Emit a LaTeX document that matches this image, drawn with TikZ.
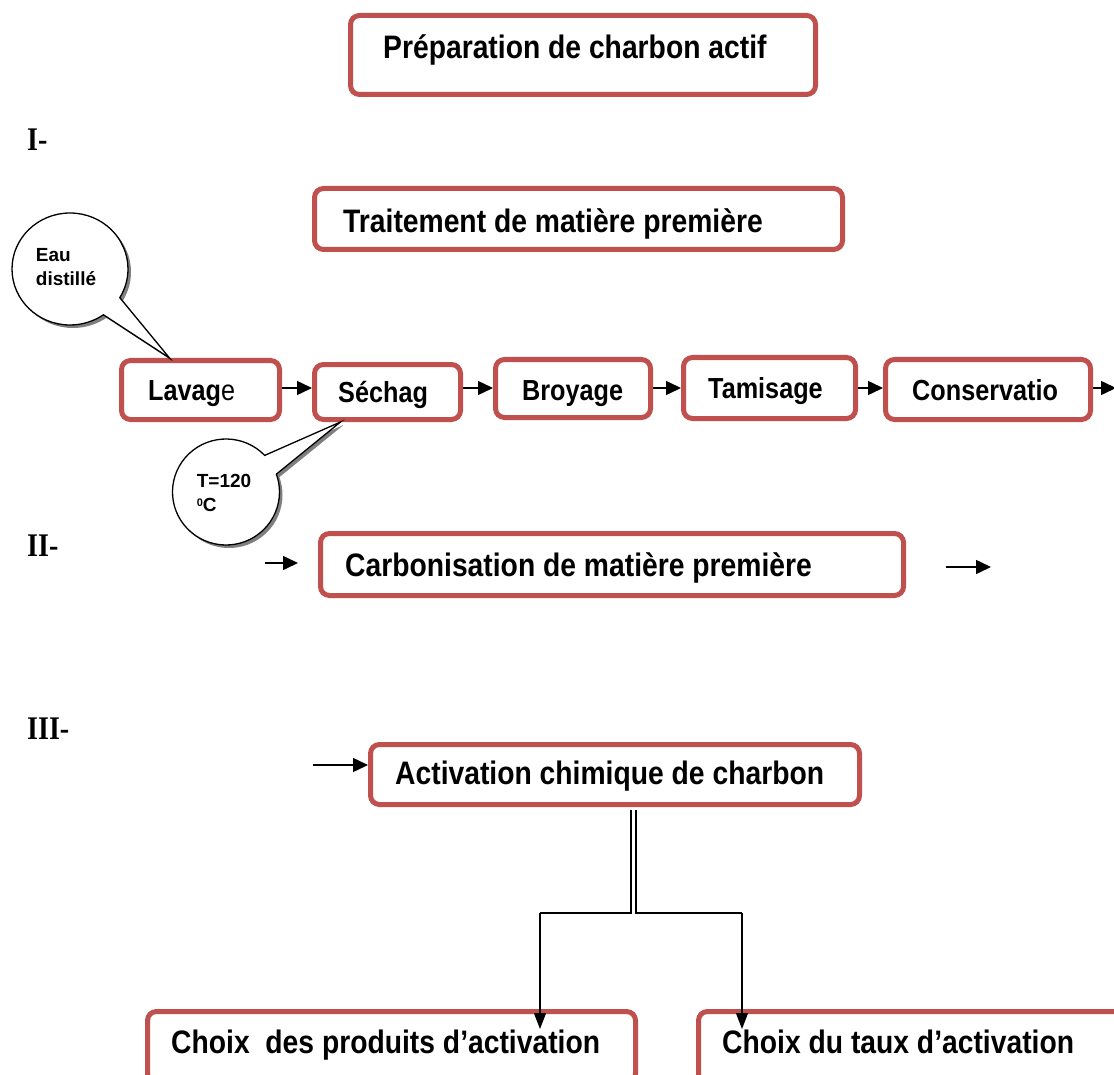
\documentclass[tikz,border=0pt]{standalone}
\usepackage{fontspec}
\setmainfont{Liberation Sans}
\newfontfamily\bx[FakeStretch=0.87]{Liberation Sans}
\newfontfamily\rom[FakeStretch=0.85]{Liberation Serif}
\usetikzlibrary{shapes.callouts,shadows,arrows.meta,calc}
\definecolor{boxred}{RGB}{192,80,77}
\begin{document}
\begin{tikzpicture}[x=1pt,y=-1pt,
  rbox/.style={draw=boxred, line width=5pt, rounded corners=9pt, fill=white, inner sep=0pt},
  bigtxt/.style={inner sep=0pt, anchor=base west, font=\bx\bfseries\fontsize{32.5}{36}\selectfont},
  rowtxt/.style={inner sep=0pt, anchor=base west, font=\bx\bfseries\fontsize{29}{32}\selectfont},
  romtxt/.style={inner sep=0pt, anchor=base west, font=\rom\bfseries\fontsize{33}{36}\selectfont},
  bubtxt/.style={inner sep=0pt, align=left, font=\bfseries\fontsize{19}{24}\selectfont},
  arr/.style={line width=1.5pt, -{Triangle[length=15pt,width=14pt]}},
  darr/.style={line width=1.3pt, -{Triangle[length=16pt,width=12pt]}},
  conn/.style={line width=1.3pt},
  bubble/.style={ellipse callout, draw=black, line width=1.3pt, fill=white, inner sep=0pt,
    callout pointer arc=24,
    drop shadow={shadow xshift=3pt, shadow yshift=-3pt, fill=black, opacity=0.5}}]
\useasboundingbox (0,0) rectangle (1114,1075);

% title
\node[rbox, minimum width=465pt, minimum height=79pt] (prep) at (583,55) {};
\node[bigtxt] (prept) at (383,59) {Préparation de charbon actif};

% roman numerals
\node[romtxt] (r1) at (27,151) {I-};
\node[romtxt] (r2) at (27,556) {II-};
\node[romtxt] (r3) at (27,739) {III-};

% section I
\node[rbox, minimum width=528pt, minimum height=61pt] (trait) at (578.5,219) {};
\node[bigtxt] (traitt) at (343,233) {Traitement de matière première};

\node[rbox, minimum width=158pt, minimum height=59pt] (lav) at (200.5,390) {};
\node[rowtxt] (lavt) at (148,400) {Lavag{\mdseries e}};
\node[rbox, minimum width=146pt, minimum height=55pt] (sech) at (387.5,392) {};
\node[rowtxt] (secht) at (338,402) {Séchag};
\node[rbox, minimum width=155pt, minimum height=58pt] (broy) at (573,388.5) {};
\node[rowtxt] (broyt) at (522,400) {Broyage};
\node[rbox, minimum width=172pt, minimum height=61pt] (tam) at (769.5,388) {};
\node[rowtxt] (tamt) at (708,398) {Tamisage};
\node[rbox, minimum width=205pt, minimum height=60pt] (cons) at (988,389.5) {};
\node[rowtxt] (const) at (912,400) {Conservatio};

\coordinate (rowy) at (0,388);
\coordinate (outr) at (1116,388);
\draw[arr] (lav.east |- rowy) -- (sech.west |- rowy);
\draw[arr] (sech.east |- rowy) -- (broy.west |- rowy);
\draw[arr] (broy.east |- rowy) -- (tam.west |- rowy);
\draw[arr] (tam.east |- rowy) -- (cons.west |- rowy);
\draw[arr] (cons.east |- rowy) -- (outr);

% callouts
\coordinate (tipA) at ($(lav.north west)+(50.5,0)$);
\node[bubble, minimum width=116pt, minimum height=112pt, callout absolute pointer={(tipA)}] (eau) at (70,269) {};
\node[bubtxt] (eaut) at (66,267) {Eau\\distillé};

\coordinate (tipB) at ($(sech.south west)+(28.5,0)$);
\node[bubble, minimum width=107pt, minimum height=106pt, callout absolute pointer={(tipB)}] (temp) at (226,492) {};
\node[bubtxt] (tempt) at (224,493) {T=120\\{\raisebox{0.55ex}{\fontsize{11}{11}\selectfont 0}}C};

% section II
\node[rbox, minimum width=583pt, minimum height=62pt] (carb) at (612,564.5) {};
\node[bigtxt] (carbt) at (345,576) {Carbonisation de matière première};
\coordinate (ca1) at (265,563);
\coordinate (ca2) at (298,563);
\coordinate (cb1) at (946,567);
\coordinate (cb2) at (991,567);
\draw[arr] (ca1) -- (ca2);
\draw[arr] (cb1) -- (cb2);

% section III
\node[rbox, minimum width=489pt, minimum height=60pt] (act) at (615,774.5) {};
\node[bigtxt] (actt) at (395,784) {Activation chimique de charbon};
\coordinate (aa1) at (313,765);
\draw[arr] (aa1) -- (act.west |- aa1);

\node[rbox, minimum width=488pt, minimum height=71pt] (ch1) at (391.5,1047) {};
\node[bigtxt] (ch1t) at (171,1053) {Choix\ \ des produits d’activation};
\node[rbox, minimum width=429pt, minimum height=71pt] (ch2) at (913,1047) {};
\node[bigtxt] (ch2t) at (722,1053) {Choix du taux d’activation};

\coordinate (dl) at ($(act.south)+(16,2.5)$);
\coordinate (dr) at ($(act.south)+(21,2.5)$);
\coordinate (jl) at (540,913);
\coordinate (jr) at (742,913);
\coordinate (tl) at (540,1029);
\coordinate (tr) at (742,1029);
\draw[conn] (dl) -- (dl |- jl) -- (jl);
\draw[conn] (dr) -- (dr |- jr) -- (jr);
\draw[darr] (jl) -- (tl);
\draw[darr] (jr) -- (tr);
\end{tikzpicture}
\end{document}
